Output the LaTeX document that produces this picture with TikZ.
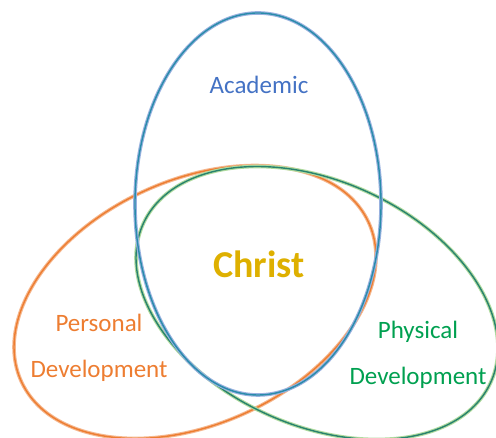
\documentclass[tikz,border=0pt]{standalone}
\usepackage{fontspec}
\setmainfont{Carlito}
\usetikzlibrary{positioning}
\definecolor{vennblue}{RGB}{68,114,196}
\definecolor{vennteal}{RGB}{40,140,170}
\definecolor{vennorange}{RGB}{237,125,49}
\definecolor{venngreen}{RGB}{112,190,80}
\definecolor{venndkgreen}{RGB}{40,130,110}
\definecolor{venntxtgreen}{RGB}{0,160,80}
\definecolor{venngold}{RGB}{222,176,0}

\begin{document}
\begin{tikzpicture}[x=1pt, y=1pt,
  halo/.style={line width=3.6pt, draw=#1!55},
  ring/.style={line width=1.4pt, draw=#1},
  lbl/.style={font=\fontsize{25}{30}\selectfont, text=#1,
              inner sep=0pt, text height=18pt, text depth=6pt}
]
\useasboundingbox (0,0) rectangle (496,438);
% the three circles of the diagram
\draw[halo=vennorange] [rotate around={24.6:(195,136)}] (195,136) ellipse [x radius=191, y radius=122];
\draw[ring=vennorange] [rotate around={24.6:(195,136)}] (195,136) ellipse [x radius=191, y radius=122];
\draw[halo=venngreen] [rotate around={-24.6:(317,135)}] (317,135) ellipse [x radius=191, y radius=122];
\draw[ring=venndkgreen] [rotate around={-24.6:(317,135)}] (317,135) ellipse [x radius=191, y radius=122];
\draw[halo=vennblue] (258,234) ellipse [x radius=123, y radius=191];
\draw[ring=vennteal] (258,234) ellipse [x radius=123, y radius=191];
% labels
\node[lbl=vennblue] (acad) at (259,350) {Academic};
\node[lbl=venngold, font=\fontsize{38}{44}\selectfont\bfseries,
      text height=27pt, text depth=2pt] (christ) at (259,173) {Christ};
\node[lbl=vennorange] (pers) at (99,112) {Personal};
\node[lbl=vennorange, below=21pt of pers] (persdev) {Development};
\node[lbl=venntxtgreen] (phys) at (418,105) {Physical};
\node[lbl=venntxtgreen, below=21pt of phys] (physdev) {Development};
\end{tikzpicture}
\end{document}
